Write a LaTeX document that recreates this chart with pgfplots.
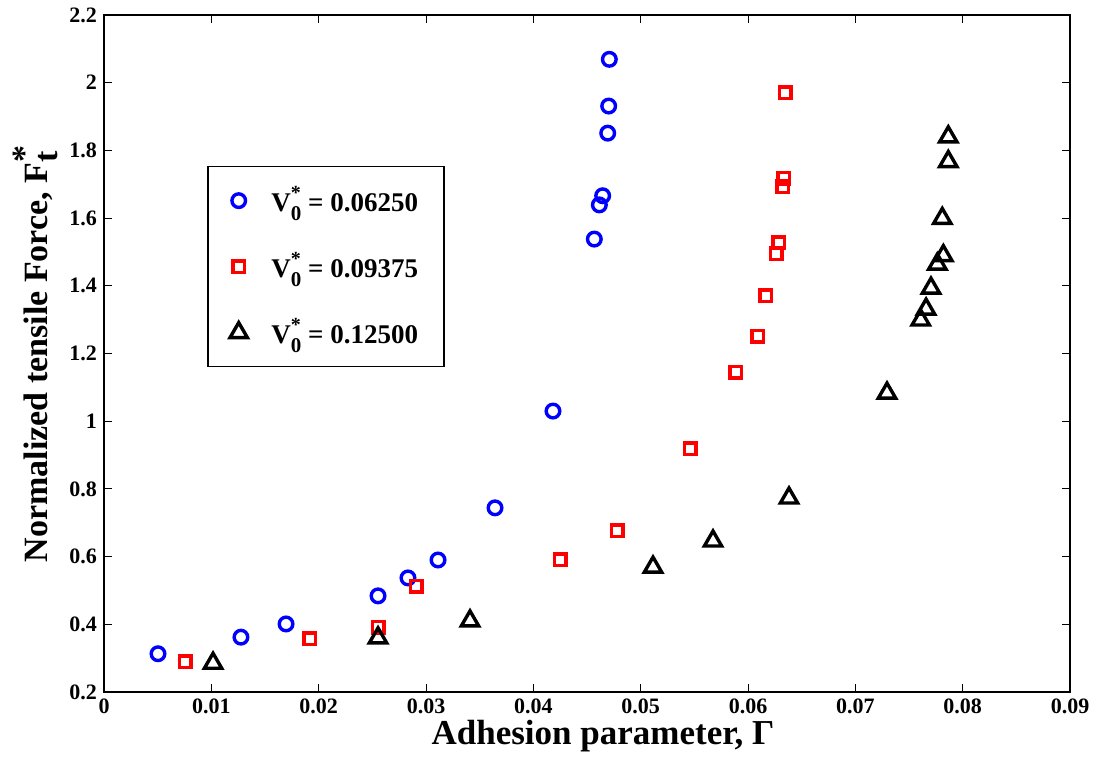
\documentclass[border=0pt]{standalone}
\usepackage{pgfplots}
\pgfplotsset{compat=1.18}
\usepackage{fontspec}
\setmainfont{Liberation Serif}
% V0* as in the original legend: star high, subscript low
\newcommand{\vstar}{V\rlap{\raisebox{0.95ex}{\fontsize{10}{10}\selectfont*}}\raisebox{-0.75ex}{\fontsize{10.5}{10}\selectfont 0}}

\begin{document}
\begin{tikzpicture}
\begin{axis}[
  scale only axis, width=483pt, height=338.5pt,
  xmin=0, xmax=0.09, ymin=0.2, ymax=2.2,
  xtick={0,0.01,...,0.09}, ytick={0.2,0.4,...,2.2},
  /pgf/number format/assume math mode=true,
  /pgf/number format/fixed,
  /pgf/number format/precision=2,
  scaled x ticks=false,
  tick label style={font=\fontsize{11}{13}\selectfont\bfseries},
  tick align=inside, major tick length=4pt,
  axis line style={line width=0.7pt},
  every tick/.style={black, line width=0.5pt},
  xlabel={\textbf{Adhesion parameter, Γ}},
  ylabel={\textbf{Normalized tensile Force, F$_{\textbf{t}}^{\textbf{*}}$}},
  xlabel style={font=\fontsize{17.5}{20}\selectfont, yshift=4pt, xshift=8pt},
  ylabel style={font=\fontsize{17}{20}\selectfont, yshift=-1pt},
  legend style={at={(0.107,0.777)}, anchor=north west, font=\fontsize{13.5}{16}\selectfont\bfseries,
    draw=black, line width=0.7pt, row sep=15pt, column sep=10pt,
    inner xsep=11pt, inner ysep=8pt},
  legend cell align=left,
]
\addplot[only marks, mark=o, mark size=3.4pt, draw=blue, line width=1.7pt] coordinates {
 (0.00503,0.313) (0.01276,0.362) (0.01696,0.401) (0.02553,0.484) (0.02832,0.537)
 (0.03112,0.590) (0.03643,0.744) (0.04183,1.030) (0.04568,1.538) (0.04615,1.639)
 (0.04646,1.666) (0.04693,1.851) (0.04702,1.931) (0.04708,2.069)};
\addlegendentry{\vstar\ = 0.06250}
\addplot[only marks, mark=square, mark size=2.9pt, draw=red, line width=1.7pt] coordinates {
 (0.00755,0.289) (0.01919,0.357) (0.02553,0.392) (0.02907,0.513) (0.04249,0.590)
 (0.04780,0.676) (0.05460,0.918) (0.05888,1.145) (0.06091,1.251) (0.06165,1.370)
 (0.06264,1.495) (0.06286,1.527) (0.06324,1.693) (0.06333,1.718) (0.06346,1.970)};
\addlegendentry{\vstar\ = 0.09375}
\addplot[only marks, mark=triangle, mark size=5pt, draw=black, line width=1.7pt] coordinates {
 (0.01016,0.285) (0.02553,0.360) (0.03410,0.410) (0.05115,0.569) (0.05674,0.646)
 (0.06382,0.773) (0.07295,1.083) (0.07609,1.299) (0.07659,1.331) (0.07705,1.393)
 (0.07764,1.464) (0.07820,1.489) (0.07810,1.599) (0.07866,1.767) (0.07866,1.840)};
\addlegendentry{\vstar\ = 0.12500}
\end{axis}
% keep the margins of the original figure
\path ([shift={(-52pt,-32.5pt)}]current axis.south west)
  rectangle ([shift={(15pt,7.5pt)}]current axis.north east);
\end{tikzpicture}
\end{document}
